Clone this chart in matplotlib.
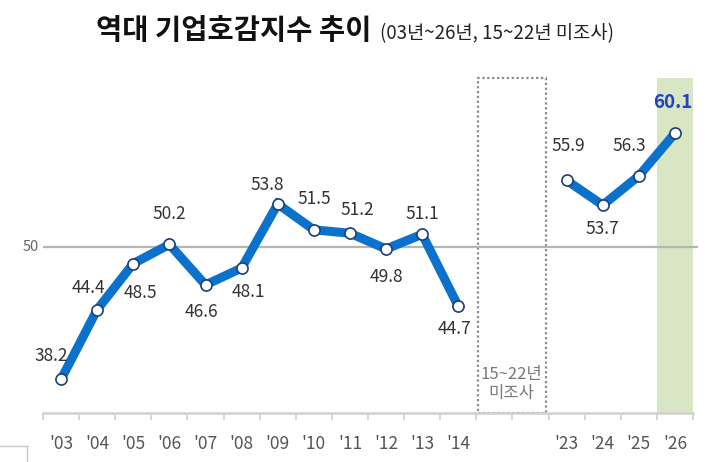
import numpy as np
import matplotlib
matplotlib.use("Agg")
import matplotlib.pyplot as plt
from matplotlib.patches import Rectangle
from matplotlib.lines import Line2D

# ---- data ----
year_labels = ["'03", "'04", "'05", "'06", "'07", "'08", "'09", "'10", "'11", "'12",
               "'13", "'14", "", "", "'23", "'24", "'25", "'26"]
values = [38.2, 44.4, 48.5, 50.2, 46.6, 48.1, 53.8, 51.5, 51.2, 49.8,
          51.1, 44.7, np.nan, np.nan, 55.9, 53.7, 56.3, 60.1]
ref_value = 50
title_main = "역대 기업호감지수 추이"
title_sub = "(03년~26년, 15~22년 미조사)"
gap_text = "15~22년\n미조사"

# label offsets in pixels (dx, dy; dy positive = downward)
label_offsets = [(-10, -23), (-9, -22), (7, 29), (0, -30), (-4, 27), (7, 24),
                 (-10, -19), (0, -31), (7, -23), (0, 28), (0, -20), (-4, 23),
                 (0, 0), (0, 0), (2, -34), (0, 24), (-10, -30), (-2, -31)]

KR = ['Noto Sans CJK KR', 'DejaVu Sans']
NUM = ['Liberation Sans Narrow', 'Noto Sans CJK KR', 'DejaVu Sans']

fig = plt.figure(figsize=(7.09, 4.62), dpi=100)
ax = fig.add_axes([43 / 709, 1 - 413 / 462, 650 / 709, 336 / 462])
x = np.arange(len(year_labels))
ax.set_xlim(-0.5, len(year_labels) - 0.5)
ax.set_ylim(35.2, 65.1)

# highlight for last year
ax.add_patch(Rectangle((16.5, 35.2), 1.0, 65.0 - 35.2, facecolor='#d9e6c3',
                       edgecolor='none', zorder=0))
# dotted box for gap years
ax.add_patch(Rectangle((11.55, 35.2), 1.87, 65.0 - 35.2, facecolor='none',
                       edgecolor='#8a8a8a', linestyle=(0, (1, 1.2)), linewidth=1.6,
                       zorder=1, clip_on=False))
ax.text(12.48, 37.8, gap_text, ha='center', va='center', fontsize=12,
        color='#7a7a7a', family=KR, linespacing=1.15, zorder=2)

# reference line
ax.hlines(ref_value, -0.5, 17.65, colors='#b5b5b5', linewidth=1.6, zorder=1,
          clip_on=False)
ax.text(-0.85, ref_value, "50", ha='center', va='center', fontsize=10.5,
        color='#666666', family=NUM)

# line
ax.plot(x, values, color='#0a72cc', linewidth=6.5, solid_capstyle='butt',
        solid_joinstyle='miter', zorder=3)
ax.plot(x, values, linestyle='none', marker='o', markersize=8,
        markerfacecolor='white', markeredgecolor='#1d3f73', markeredgewidth=1.2,
        zorder=4)

for i, v in enumerate(values):
    if np.isnan(v):
        continue
    dx, dy = label_offsets[i]
    last = (i == len(values) - 1)
    ax.annotate(f"{v:.1f}", (x[i], v), xytext=(dx, -dy), textcoords='offset pixels',
                ha='center', va='center',
                fontsize=13.5 if last else 12.5,
                fontweight='bold' if last else 'normal',
                color='#1f44c0' if last else '#333333', family=NUM, zorder=5)

# axes styling
for s in ['top', 'right', 'left']:
    ax.spines[s].set_visible(False)
ax.spines['bottom'].set_color('#d0d0d0')
ax.spines['bottom'].set_linewidth(1.8)
ax.set_yticks([])
ax.set_xticks(np.arange(-0.5, len(year_labels), 1.0))
ax.set_xticklabels([])
ax.tick_params(axis='x', which='major', length=5, width=1.2, color='#d0d0d0')
ax.set_xticks(x, minor=True)
ax.set_xticklabels(year_labels, minor=True)
ax.tick_params(axis='x', which='minor', length=0, pad=16, labelsize=12.5,
               labelcolor='#555555')
for lab in ax.get_xticklabels(minor=True):
    lab.set_family(NUM)

# title
fig.text(372 / 709, 1 - 39 / 462, title_main, ha='right', va='baseline',
         fontsize=20.5, fontweight='bold', family=KR, color='#111111')
fig.text(380 / 709, 1 - 39 / 462, title_sub, ha='left', va='baseline',
         fontsize=13.5, family=KR, color='#222222')

# bottom-left frame fragment
fig.add_artist(Line2D([0, 27 / 709], [1 - 446 / 462, 1 - 446 / 462],
                      color='#c8c8c8', linewidth=1.0))
fig.add_artist(Line2D([27 / 709, 27 / 709], [1 - 446 / 462, 0],
                      color='#c8c8c8', linewidth=1.0))

fig.savefig("out.png", dpi=100)
